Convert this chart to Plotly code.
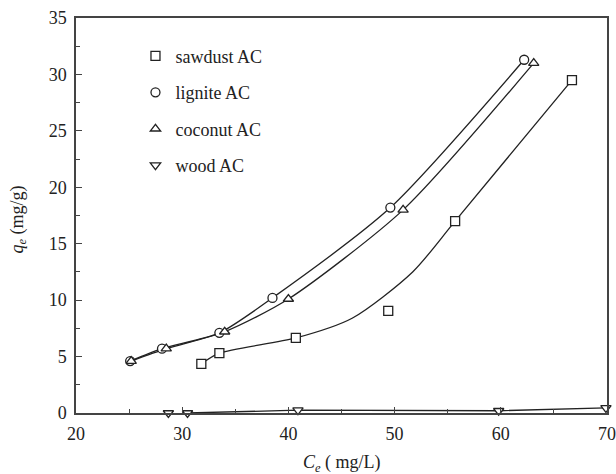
import plotly.graph_objects as go

# Data
saw_x = [31.8, 33.5, 40.7, 49.4, 55.7, 66.7]
saw_y = [4.35, 5.3, 6.65, 9.05, 17.0, 29.5]
saw_fit_x = [31.8, 33.5, 40.7, 46.0, 51.7, 55.7, 66.7]
saw_fit_y = [4.35, 5.3, 6.65, 8.4, 12.5, 17.0, 29.5]

lig_x = [25.1, 28.1, 33.5, 38.5, 49.6, 62.2]
lig_y = [4.6, 5.7, 7.1, 10.2, 18.2, 31.3]

coc_x = [25.2, 28.5, 34.0, 40.0, 50.8, 63.1]
coc_y = [4.6, 5.7, 7.2, 10.1, 18.0, 31.0]

wood_x = [28.7, 30.5, 40.9, 59.8, 69.9]
wood_y = [0.0, 0.0, 0.25, 0.2, 0.45]

names = ["sawdust AC", "lignite AC", "coconut AC", "wood AC"]
symbols = ["square", "circle", "triangle-up", "triangle-down"]

FONT = "Liberation Serif"
INK = "#222222"
AX = "#444444"

fig = go.Figure()

line_style = dict(color=INK, width=1.3, shape="spline", smoothing=0.7)

# fitted curves
fig.add_trace(go.Scatter(x=saw_fit_x, y=saw_fit_y, mode="lines",
                         line=dict(color=INK, width=1.3, shape="spline", smoothing=0.75),
                         showlegend=False, hoverinfo="skip"))
fig.add_trace(go.Scatter(x=lig_x, y=lig_y, mode="lines", line=line_style,
                         showlegend=False, hoverinfo="skip"))
fig.add_trace(go.Scatter(x=coc_x, y=coc_y, mode="lines", line=line_style,
                         showlegend=False, hoverinfo="skip"))
fig.add_trace(go.Scatter(x=wood_x[1:], y=wood_y[1:], mode="lines",
                         line=dict(color=INK, width=1.3),
                         showlegend=False, hoverinfo="skip", cliponaxis=False))

series = [(saw_x, saw_y), (lig_x, lig_y), (coc_x, coc_y), (wood_x, wood_y)]
for i, ((xs, ys), nm, sym) in enumerate(zip(series, names, symbols)):
    fig.add_trace(go.Scatter(
        x=xs, y=ys, mode="markers", name=nm, legendgroup=nm,
        marker=dict(symbol=sym, size=9, color="white", line=dict(width=1.3, color=INK)),
        cliponaxis=False,
    ))

fig.update_layout(
    width=616, height=474,
    margin=dict(l=76, r=9, t=18, b=61),
    paper_bgcolor="white", plot_bgcolor="white",
    font=dict(family=FONT, size=18, color=INK),
    showlegend=True,
    legend=dict(x=0.112, y=0.95, xanchor="left", yanchor="top",
                bgcolor="rgba(0,0,0,0)", font=dict(family=FONT, size=18, color=INK),
                tracegroupgap=10, itemwidth=30),
    xaxis=dict(range=[20, 70], dtick=10, tick0=20, showgrid=False, zeroline=False,
               automargin=False,
               showline=True, mirror=True, linecolor=AX, linewidth=1.5,
               ticks="inside", ticklen=6, tickwidth=1.2, tickcolor=AX,
               ticklabelstandoff=4,
               minor=dict(dtick=5, ticks="inside", ticklen=4, tickcolor=AX, showgrid=False),
               tickfont=dict(family=FONT, size=18, color=INK)),
    yaxis=dict(range=[0, 35], dtick=5, tick0=0, showgrid=False, zeroline=False,
               automargin=False,
               showline=True, mirror=True, linecolor=AX, linewidth=1.5,
               ticks="inside", ticklen=6, tickwidth=1.2, tickcolor=AX,
               ticklabelstandoff=4,
               minor=dict(dtick=2.5, ticks="inside", ticklen=4, tickcolor=AX, showgrid=False),
               tickfont=dict(family=FONT, size=18, color=INK)),
    annotations=[
        dict(text="<i>C</i><sub><i>e</i></sub> ( mg/L)", xref="paper", yref="paper",
             x=0.5, y=-0.127, xanchor="center", yanchor="middle", showarrow=False,
             font=dict(family=FONT, size=18, color=INK)),
        dict(text="<i>q</i><sub><i>e</i></sub> (mg/g)", xref="paper", yref="paper",
             x=-0.109, y=0.49, xanchor="center", yanchor="middle", textangle=-90,
             showarrow=False, font=dict(family=FONT, size=18, color=INK)),
    ],
)

fig.write_html("out.html", config={"displayModeBar": False},
               post_script="document.body.style.margin='0';")
